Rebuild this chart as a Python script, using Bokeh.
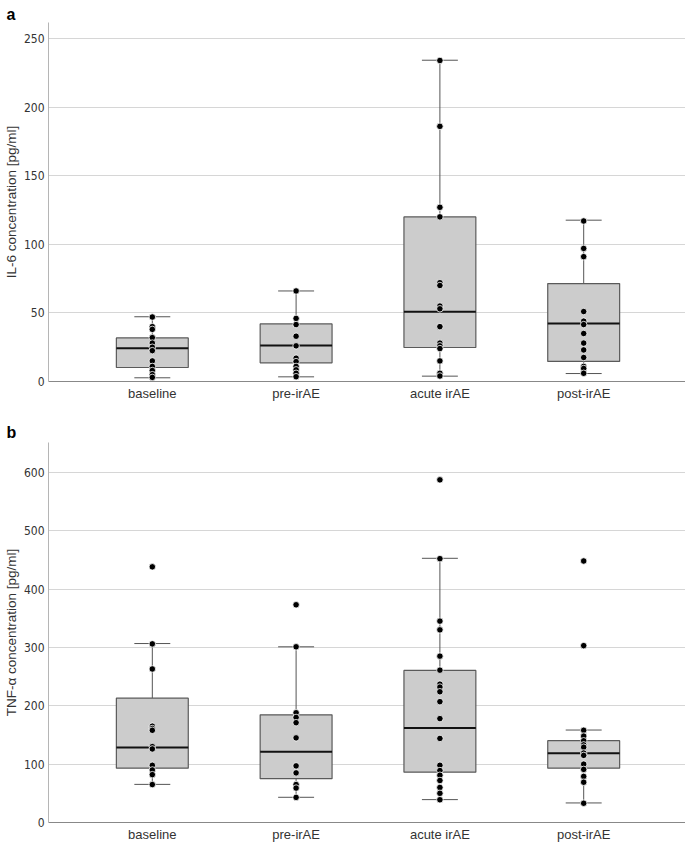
from bokeh.plotting import figure
from bokeh.layouts import column
from bokeh.models import FixedTicker, ColumnDataSource
from bokeh.embed import file_html
from bokeh.resources import INLINE

categories = ["baseline", "pre-irAE", "acute irAE", "post-irAE"]

# ---- Panel a: IL-6 [pg/ml] ----
il6_baseline = [47, 40, 38, 32, 28, 25, 22.5, 15, 11, 8, 5, 3]
il6_pre = [66, 46, 41.5, 33, 26, 17, 14.5, 11, 8.5, 6, 3.5]
il6_acute = [234, 186, 127, 120, 72, 70, 55, 53, 40, 28, 26, 24, 15, 6, 4]
il6_post = [117, 97, 91, 51, 44, 41.5, 35, 28, 23, 17.5, 11, 9.5, 6]
il6_q1 = [10.2, 13.6, 24.8, 14.6]
il6_median = [24.3, 26.2, 50.8, 42.3]
il6_q3 = [31.8, 42.0, 120.0, 71.4]
il6_whisker_lo = [2.7, 3.4, 3.9, 5.8]
il6_whisker_hi = [47.2, 66.0, 234.2, 117.6]
il6_ticks = [0, 50, 100, 150, 200, 250]

# ---- Panel b: TNF-alpha [pg/ml] ----
tnf_baseline = [438, 306, 263, 165, 161, 158, 130, 126, 98, 90, 82, 65]
tnf_pre = [373, 301, 188, 180, 171, 145, 97, 85, 65, 59, 43]
tnf_acute = [587, 452, 345, 330, 285, 261, 237, 232, 224, 207, 178, 144, 98, 89, 81, 72, 60, 50, 39]
tnf_post = [448, 303, 158, 148, 140, 133, 129, 119, 115, 100, 91, 79, 69, 33]
tnf_q1 = [93.1, 75.0, 86.3, 93.1]
tnf_median = [128.3, 121.0, 161.8, 118.7]
tnf_q3 = [213.0, 184.5, 260.6, 140.2]
tnf_whisker_lo = [65.3, 43.2, 39.2, 33.5]
tnf_whisker_hi = [306.6, 301.0, 452.6, 158.4]
tnf_ticks = [0, 100, 200, 300, 400, 500, 600]

NARROW = "'Liberation Sans Narrow', 'DejaVu Sans Condensed', 'Liberation Sans', sans-serif"
SANS = "'Liberation Sans', Arial, sans-serif"


def make_panel(groups, q1, med, q3, lo, hi, ticks, ymax, ylabel, letter,
               frame_h, border_top, border_bottom, title_standoff):
    p = figure(frame_width=638, frame_height=frame_h,
               x_range=(-0.722, 3.715), y_range=(0, ymax),
               min_border_left=46, min_border_right=0,
               min_border_top=border_top, min_border_bottom=border_bottom,
               output_backend="svg", toolbar_location=None,
               title=letter)
    p.outline_line_color = None
    p.background_fill_color = "white"
    p.border_fill_color = "white"

    # panel letter as a left-aligned title shifted over the axis area
    p.title.align = "left"
    p.title.offset = -42
    p.title.standoff = title_standoff
    p.title.text_font = SANS
    p.title.text_font_style = "bold"
    p.title.text_font_size = "16px"
    p.title.text_color = "black"

    xs = list(range(len(categories)))
    box = ColumnDataSource(dict(x=xs, q1=q1, med=med, q3=q3, lo=lo, hi=hi,
                                xl=[x - 0.125 for x in xs], xr=[x + 0.125 for x in xs],
                                ml=[x - 0.25 for x in xs], mr=[x + 0.25 for x in xs]))
    # whiskers
    p.segment(x0="x", y0="lo", x1="x", y1="q1", source=box, line_color="#555555", line_width=1)
    p.segment(x0="x", y0="q3", x1="x", y1="hi", source=box, line_color="#555555", line_width=1)
    p.segment(x0="xl", y0="lo", x1="xr", y1="lo", source=box, line_color="#555555", line_width=1)
    p.segment(x0="xl", y0="hi", x1="xr", y1="hi", source=box, line_color="#555555", line_width=1)
    # boxes
    p.vbar(x="x", width=0.5, bottom="q1", top="q3", source=box,
           fill_color="#cccccc", line_color="#5a5a5a", line_width=1.2)
    # medians
    p.segment(x0="ml", y0="med", x1="mr", y1="med", source=box, line_color="#111111", line_width=2)

    # points
    px, py = [], []
    for i, vals in enumerate(groups):
        px += [i] * len(vals)
        py += vals
    p.scatter(x=px, y=py, size=6.5, fill_color="black", line_color="white", line_width=0.8)

    # axes
    p.xgrid.grid_line_color = None
    p.ygrid.grid_line_color = "#d6d6d6"
    p.ygrid.grid_line_width = 1
    p.yaxis.ticker = FixedTicker(ticks=ticks)
    p.xaxis.ticker = FixedTicker(ticks=xs)
    p.xaxis.major_label_overrides = {i: c for i, c in enumerate(categories)}
    for ax in (p.xaxis, p.yaxis):
        ax.major_tick_line_color = None
        ax.minor_tick_line_color = None
        ax.major_tick_out = 0
        ax.major_tick_in = 0
        ax.minor_tick_out = 0
        ax.minor_tick_in = 0
        ax.major_label_text_color = "#333333"
    p.yaxis.axis_line_color = "#b5b5b5"
    p.xaxis.axis_line_color = "#888888"
    p.yaxis.major_label_text_font = NARROW
    p.yaxis.major_label_text_font_size = "12px"
    p.yaxis.major_label_standoff = 4
    p.xaxis.major_label_text_font = SANS
    p.xaxis.major_label_text_font_size = "13px"
    p.xaxis.major_label_standoff = 4
    p.yaxis.axis_label = ylabel
    p.yaxis.axis_label_text_font = SANS
    p.yaxis.axis_label_text_font_style = "normal"
    p.yaxis.axis_label_text_font_size = "13.5px"
    p.yaxis.axis_label_text_color = "#333333"
    p.yaxis.axis_label_standoff = 2
    return p


p1 = make_panel([il6_baseline, il6_pre, il6_acute, il6_post],
                il6_q1, il6_median, il6_q3, il6_whisker_lo, il6_whisker_hi,
                il6_ticks, 261.7, "IL-6 concentration [pg/ml]", "a",
                frame_h=359, border_top=22, border_bottom=30, title_standoff=0)
p2 = make_panel([tnf_baseline, tnf_pre, tnf_acute, tnf_post],
                tnf_q1, tnf_median, tnf_q3, tnf_whisker_lo, tnf_whisker_hi,
                tnf_ticks, 651, "TNF-α concentration [pg/ml]", "b",
                frame_h=380, border_top=31, border_bottom=18, title_standoff=3)

layout = column(p1, p2)
open("out.html", "w").write(file_html(layout, INLINE))
